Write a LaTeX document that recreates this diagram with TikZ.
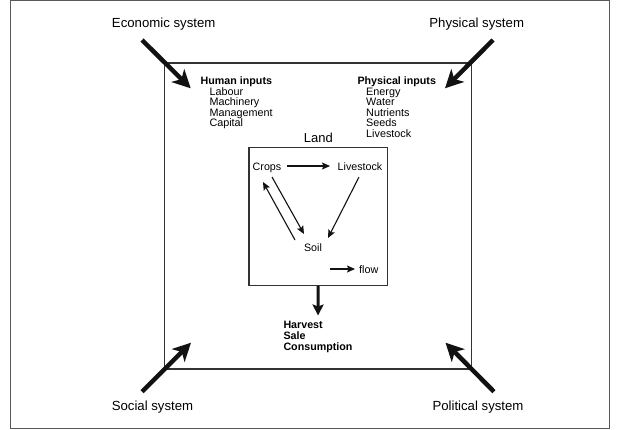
\documentclass[tikz,border=0pt]{standalone}
\usepackage{fontspec}
\setmainfont{Liberation Sans}
\usetikzlibrary{arrows.meta}
\begin{document}
\begin{tikzpicture}[x=1pt,y=-1pt,
  lbl/.style={inner sep=0pt,anchor=base,font=\fontsize{13.2}{13.2}\selectfont},
  txt/.style={inner sep=0pt,anchor=base west,font=\fontsize{10.8}{10.8}\selectfont},
  btxt/.style={txt,font=\fontsize{10.7}{10.7}\selectfont\bfseries},
  ctxt/.style={inner sep=0pt,anchor=base,font=\fontsize{10.7}{10.7}\selectfont},
  bigarrow/.style={line width=4.5pt,color=black!93,-{Stealth[length=18pt,width=18pt,inset=5pt]}},
  downarrow/.style={line width=3pt,color=black!93,-{Stealth[length=11pt,width=11pt,inset=2pt]}},
  flowarrow/.style={line width=1.1pt,color=black!93,-{Stealth[length=8pt,width=7pt,inset=1.5pt]}},
  boxline/.style={draw=black!80,line width=1.3pt}]
\useasboundingbox (0,0) rectangle (620,429);
\draw[draw=black!65,line width=1.3pt] (10.5,0.6) rectangle (609.5,428.4);
% main box
\node[boxline,minimum width=307pt,minimum height=306pt,inner sep=0pt,anchor=north west] (main) at (164,62.3) {};
% inner land box
\node[boxline,minimum width=138.5pt,minimum height=138pt,inner sep=0pt,anchor=north west] (land) at (248.3,146.7) {};
\node[inner sep=0pt,anchor=base,font=\fontsize{13}{13}\selectfont] (landlbl) at (318.3,142) {Land};
% system labels
\node[lbl] (econ) at (163.7,27.3) {Economic system};
\node[lbl] (phys) at (476.7,27.3) {Physical system};
\node[lbl] (soc) at (152.5,410.8) {Social system};
\node[lbl] (pol) at (478,410.8) {Political system};
% big arrows
\coordinate (econTail) at (142,40);
\coordinate (econTip) at (190.7,88.3);
\coordinate (physTail) at (493,40);
\coordinate (physTip) at (445,88.3);
\coordinate (socTail) at (142,391.7);
\coordinate (socTip) at (191,342.7);
\coordinate (polTail) at (494,391.7);
\coordinate (polTip) at (445.5,342.7);
\draw[bigarrow] (econTail) -- (econTip);
\draw[bigarrow] (physTail) -- (physTip);
\draw[bigarrow] (socTail) -- (socTip);
\draw[bigarrow] (polTail) -- (polTip);
% human inputs
\node[btxt] (h0) at (200.5,84.5) {Human inputs};
\node[txt] (h1) at (209.3,95.3) {Labour};
\node[txt] (h2) at (209.3,105.8) {Machinery};
\node[txt] (h3) at (209.3,116.3) {Management};
\node[txt] (h4) at (209.3,126.8) {Capital};
% physical inputs
\node[btxt] (p0) at (357.3,84.5) {Physical inputs};
\node[txt] (p1) at (366,95.3) {Energy};
\node[txt] (p2) at (366,105.8) {Water};
\node[txt] (p3) at (366,116.3) {Nutrients};
\node[txt] (p4) at (366,126.8) {Seeds};
\node[txt] (p5) at (366,137.3) {Livestock};
% inner nodes
\node[ctxt] (crops) at (267,170) {Crops};
\node[ctxt] (live) at (360,170) {Livestock};
\node[ctxt] (soil) at (313,251) {Soil};
\node[txt] (flow) at (359,273) {flow};
\coordinate (flowTail) at (330,269);
\draw[flowarrow] ([shift={(20,-4)}]crops.base) -- ([shift={(-30,-4)}]live.base);
\draw[flowarrow] ([shift={(5,7)}]crops.base) -- ([shift={(-9,-17)}]soil.base);
\draw[flowarrow] ([shift={(-18,-11)}]soil.base) -- ([shift={(-4,12)}]crops.base);
\draw[flowarrow] ([shift={(-1,7)}]live.base) -- ([shift={(15,-13)}]soil.base);
\draw[flowarrow] (flowTail) -- ([shift={(-4,-4)}]flow.base west);
% output
\node[btxt] (o1) at (283.3,328) {Harvest};
\node[btxt] (o2) at (283.3,339.3) {Sale};
\node[btxt] (o3) at (283.3,350.6) {Consumption};
\coordinate (outTop) at (318,315.5);
\draw[downarrow] (land.south) -- (outTop);
\end{tikzpicture}
\end{document}
